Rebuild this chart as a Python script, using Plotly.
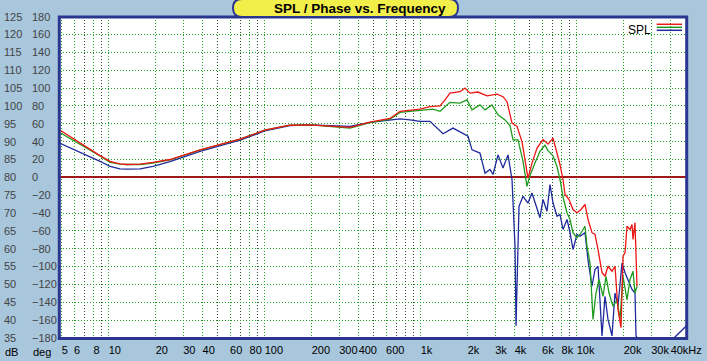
import plotly.graph_objects as go

# ---------------- data ----------------
low_freq = [4.8, 6.55, 8.8, 10.2, 11.8, 13.1, 15.9, 19.2, 24.7, 38.5, 51.7, 69.4,
            100, 145, 195, 262, 352, 473, 636, 737]
red_low = [93.4, 89.6, 86.1, 84.5, 83.8, 83.6, 83.7, 84.2, 85.0, 87.7, 89.1, 90.7,
           93.2, 94.6, 94.7, 94.4, 94.0, 95.5, 96.5, 98.5]
green_low = [92.7, 89.3, 86.0, 84.2, 83.7, 83.6, 83.6, 84.0, 84.9, 87.6, 89.1, 90.7,
             93.2, 94.6, 94.7, 94.3, 93.8, 95.3, 96.3, 98.2]
blue_low = [89.7, 87.1, 84.5, 83.1, 82.4, 82.3, 82.4, 83.1, 84.4, 87.3, 88.9, 90.4,
            93.0, 94.5, 94.7, 94.5, 94.3, 95.4, 96.2, 96.4]

red_hf_freq = [854, 990, 1147, 1329, 1432, 1541, 1786, 1923, 2070, 2329, 2661, 3084,
               3370, 3575, 3848, 4143, 4460, 4662, 4872, 5169, 5566, 6081, 6546, 7050,
               7477, 7814, 8170, 8414, 8925, 9469, 10044, 10656, 11303, 11814, 12535,
               13100, 13693, 14530, 15186, 15871, 16835, 17597, 18391, 19231, 19812,
               20402, 21012, 21965, 22620, 22956, 23642, 24350]
red_hf = [98.8, 99.1, 99.8, 100.0, 101.7, 103.6, 104.0, 105.0, 103.6, 103.9, 102.8, 103.3,
          102.6, 101.2, 95.2, 94.3, 90.0, 85.0, 79.8, 84.0, 88.2, 90.6, 89.3, 91.0,
          86.8, 83.6, 79.4, 75.2, 73.8, 71.0, 70.1, 71.0, 72.4, 68.2, 64.5,
          64.0, 59.8, 53.3, 52.3, 55.1, 53.7, 55.1, 43.0, 37.9, 57.9,
          58.9, 66.3, 65.4, 66.8, 62.6, 67.3, 49.5]

green_hf_freq = [854, 990, 1199, 1329, 1541, 1786, 1981, 2133, 2399, 2584, 2865, 3130,
                 3471, 3737, 3906, 4205, 4527, 4801, 5018, 5404, 5816, 6263, 6546, 7050,
                 7477, 7814, 8170, 8667, 9060, 9469, 10044, 10500, 11303, 11641, 12170,
                 12720, 13296, 13900, 14746, 15412, 16110, 17085, 18122, 18943, 19812,
                 21012, 21965, 22956, 23642, 24350]
green_hf = [98.5, 98.9, 99.1, 98.5, 101.0, 100.8, 101.7, 98.9, 100.3, 98.9, 100.3, 97.5,
            96.1, 94.5, 90.5, 90.5, 84.5, 77.5, 80.5, 84.0, 87.3, 89.0, 87.5, 86.0,
            83.0, 79.4, 74.5, 70.1, 68.2, 64.5, 63.1, 64.0, 66.3, 60.7, 56.0,
            40.2, 47.6, 51.4, 46.7, 52.3, 47.6, 43.9, 45.7, 40.2, 52.3,
            45.7, 51.4, 53.7, 47.6, 49.5]

blue_hf_freq = [854, 990, 1147, 1272, 1390, 1611, 1839, 2010, 2133, 2399, 2584, 2782,
                2908, 3130, 3370, 3628, 3848, 4023, 4083, 4143, 4267, 4527, 4872, 5169,
                5566, 5816, 6081, 6451, 6743, 7050, 7477, 7814, 8170, 8667, 9060, 9469,
                10044, 10500, 11303, 11814, 12535, 13100, 13693, 14530, 15186, 15871,
                16835, 17597, 18391, 19514, 20402, 21324, 22620, 23642, 23994,
                31760, 42670, 53240]
blue_hf = [96.1, 95.7, 95.7, 93.8, 92.2, 93.8, 92.4, 91.5, 87.7, 86.8, 81.2, 82.2,
           80.8, 86.3, 82.6, 86.3, 79.4, 60.7, 38.4, 49.5, 71.9, 74.7, 72.8, 75.6,
           71.0, 68.7, 73.8, 70.5, 78.0, 72.8, 69.1, 69.6, 65.4, 68.2, 64.5, 59.8,
           64.0, 63.5, 64.5, 56.9, 49.5, 54.2, 55.1, 35.6, 46.7, 40.2,
           35.6, 47.6, 43.9, 56.0, 53.3, 51.4, 48.6, 47.6, 35.6,
           25.0, 35.3, 39.4]

x_tick_vals = [5, 6, 8, 10, 20, 30, 40, 60, 80, 100, 200, 300, 400, 600, 1000, 2000,
               3000, 4000, 6000, 8000, 10000, 20000, 30000, 40000]
x_tick_text = ["5", "6", "8", "10", "20", "30", "40", "60", "80", "100", "200", "300",
               "400", "600", "1k", "2k", "3k", "4k", "6k", "8k", "10k", "20k", "30k",
               "40kHz"]
x_minor_vals = [7, 9, 50, 70, 90, 500, 700, 800, 900, 5000, 7000, 9000, 50000]
db_ticks = list(range(35, 130, 5))
deg_ticks = list(range(-180, 200, 20))

# ---------------- figure ----------------
W, H = 707, 361
PL, PR, PT, PB = 59.5, 686.5, 16.7, 338.0
px = lambda v: v / W
py = lambda v: 1 - v / H

fig = go.Figure()
fig.add_trace(go.Scatter(x=low_freq + blue_hf_freq, y=blue_low + blue_hf, mode="lines",
                         line=dict(color="#1f2a9c", width=1.3), name="SPL"))
fig.add_trace(go.Scatter(x=low_freq + green_hf_freq, y=green_low + green_hf, mode="lines",
                         line=dict(color="#1e9a1e", width=1.3), name="SPL"))
fig.add_trace(go.Scatter(x=low_freq + red_hf_freq, y=red_low + red_hf, mode="lines",
                         line=dict(color="#ee1515", width=1.3), name="SPL"))
# phase axis carrier (invisible)
fig.add_trace(go.Scatter(x=[10], y=[0], yaxis="y2", mode="markers",
                         marker=dict(opacity=0), hoverinfo="skip", showlegend=False))

font = dict(family="Liberation Sans, Arial, sans-serif", size=11, color="#000000")
grid_dash = "1px,2px"

fig.update_layout(
    width=W, height=H,
    margin=dict(l=0, r=0, t=0, b=0, autoexpand=False),
    paper_bgcolor="#a8c6dc",
    plot_bgcolor="#ffffff",
    showlegend=False,
    font=font,
    xaxis=dict(
        type="log", domain=[px(PL), px(PR)],
        range=[0.6846, 4.7038], automargin=False,
        tickmode="array", tickvals=x_tick_vals, ticktext=x_tick_text,
        ticklabelposition="outside right", ticks="", tickangle=0,
        ticklabelstandoff=4,
        showgrid=True, gridcolor="#1f9f1f", gridwidth=1, griddash=grid_dash,
        minor=dict(tickmode="array", tickvals=x_minor_vals, showgrid=True,
                   gridcolor="#264d26", gridwidth=1, griddash=grid_dash, ticks=""),
        zeroline=False, showline=False, anchor="y",
    ),
    yaxis=dict(
        domain=[py(PB), py(PT)], range=[35, 125], automargin=False,
        tickmode="array", tickvals=db_ticks,
        anchor="free", position=0.0, side="left",
        ticklabelposition="inside", ticklabeloverflow="allow", ticks="",
        showgrid=True, gridcolor="#1f9f1f", gridwidth=1, griddash=grid_dash,
        zeroline=False, showline=False,
    ),
    yaxis2=dict(
        domain=[py(PB), py(PT)], range=[-180, 180], overlaying="y", automargin=False,
        tickmode="array", tickvals=deg_ticks,
        anchor="free", position=28 / W, side="left",
        ticklabelposition="inside", ticklabeloverflow="allow", ticks="",
        showgrid=False, zeroline=True, zerolinecolor="#a01818", zerolinewidth=1.5,
        showline=False,
    ),
)

# plot border
fig.add_shape(type="rect", xref="paper", yref="paper",
              x0=px(59.3), x1=px(686.7), y0=py(338.5), y1=py(17.0),
              line=dict(color="#2a3690", width=3), fillcolor="rgba(0,0,0,0)", layer="above")

# title pill
x0, x1, y0, y1, r = 233, 458, -1, 17, 9
path = (f"M {px(x0 + r)},{py(y0)} L {px(x1 - r)},{py(y0)} "
        f"Q {px(x1)},{py(y0)} {px(x1)},{py(y0 + r)} "
        f"Q {px(x1)},{py(y1)} {px(x1 - r)},{py(y1)} "
        f"L {px(x0 + r)},{py(y1)} "
        f"Q {px(x0)},{py(y1)} {px(x0)},{py(y0 + r)} "
        f"Q {px(x0)},{py(y0)} {px(x0 + r)},{py(y0)} Z")
fig.add_shape(type="path", xref="paper", yref="paper", path=path,
              fillcolor="#f2ee4a", line=dict(color="#2a3690", width=2), layer="above")
fig.add_annotation(xref="paper", yref="paper", x=px(360), y=py(8.5), text="<b>SPL / Phase vs. Frequency</b>",
                   showarrow=False, font=dict(family="Liberation Sans, Arial, sans-serif", size=13.5, color="#000"),
                   xanchor="center", yanchor="middle")

# legend
fig.add_annotation(xref="paper", yref="paper", x=px(653), y=py(30), text="SPL", showarrow=False,
                   xanchor="right", yanchor="middle", font=dict(font, size=12))
for yy, c in [(24.3, "#ee1515"), (27.3, "#1e9a1e"), (30.3, "#1f2a9c")]:
    fig.add_shape(type="line", xref="paper", yref="paper", x0=px(656.7), x1=px(682), y0=py(yy), y1=py(yy),
                  line=dict(color=c, width=1.5))

# axis unit labels
fig.add_annotation(xref="paper", yref="paper", x=px(3), y=py(352), text="dB", showarrow=False,
                   xanchor="left", yanchor="middle", font=font)
fig.add_annotation(xref="paper", yref="paper", x=px(31), y=py(352), text="deg", showarrow=False,
                   xanchor="left", yanchor="middle", font=font)

fig.write_html("out.html", config={"displayModeBar": False},
               post_script="document.body.style.margin='0';document.body.style.overflow='hidden';")
